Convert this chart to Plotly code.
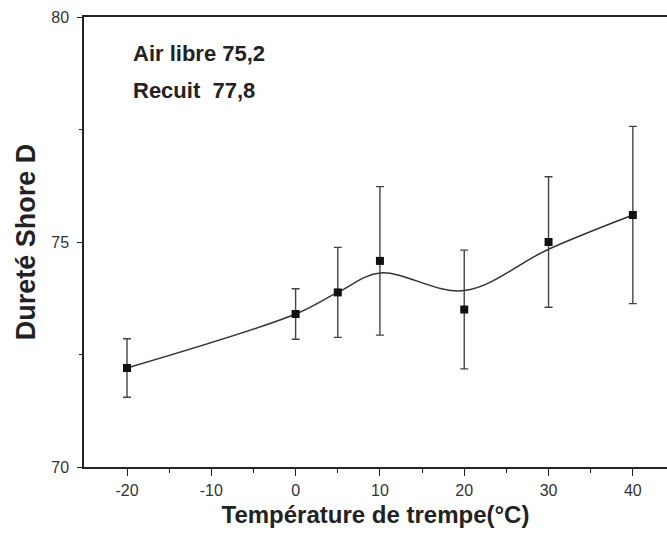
import plotly.graph_objects as go

# Data
temperature = [-20, 0, 5, 10, 20, 30, 40]
durete = [72.2, 73.4, 73.88, 74.58, 73.5, 75.0, 75.6]
ecart = [0.65, 0.56, 1.0, 1.65, 1.32, 1.45, 1.97]
courbe_lissee = [72.2, 73.4, 73.88, 74.31, 73.92, 74.84, 75.6]

x_ticks = [-20, -10, 0, 10, 20, 30, 40]
x_labels = ["-20", "-10", "0", "10", "20", "30", "40"]
y_ticks = [70, 75, 80]

FONT = "Liberation Sans, Arial, sans-serif"

fig = go.Figure()

fig.add_trace(go.Scatter(
    x=temperature, y=courbe_lissee, mode="lines",
    line=dict(color="#333333", width=1.5, shape="spline", smoothing=1.0),
    hoverinfo="skip", showlegend=False,
))

fig.add_trace(go.Scatter(
    x=temperature, y=durete, mode="markers",
    marker=dict(symbol="square", size=8, color="#111111"),
    error_y=dict(type="data", array=ecart, visible=True,
                 color="#444444", thickness=1.4, width=4),
    showlegend=False,
))

axis_font = dict(family=FONT, size=16, color="#333333")

L, T, W, H = 84, 17, 583, 450

fig.update_layout(
    width=667, height=542,
    margin=dict(l=L, r=667 - L - W, t=T, b=542 - T - H),
    plot_bgcolor="white", paper_bgcolor="white",
    xaxis=dict(
        range=[-25.1, 44.05], tickvals=x_ticks, ticktext=x_labels,
        ticks="outside", ticklen=7, tickwidth=1.2, tickcolor="#222222",
        ticklabelstandoff=1,
        showline=True, linecolor="#222222", linewidth=1.5, mirror=True,
        showgrid=False, zeroline=False, tickfont=axis_font,
        minor=dict(ticks="outside", ticklen=4, tickvals=[-15, -5, 5, 15, 25, 35],
                   tickcolor="#222222", showgrid=False),
        title=dict(text="<b>Température de trempe(°C)</b>",
                   font=dict(family=FONT, size=24, color="#222222"), standoff=8),
    ),
    yaxis=dict(
        range=[70, 80], tickvals=y_ticks, ticks="outside", ticklen=5,
        tickwidth=1.2, tickcolor="#222222", ticklabelstandoff=5,
        showline=True, linecolor="#222222", linewidth=1.5, mirror=False,
        showgrid=False, zeroline=False, tickfont=axis_font,
        minor=dict(ticks="outside", ticklen=3, tickvals=[72.5, 77.5],
                   tickcolor="#222222", showgrid=False),
        title=dict(text="<b>Dureté Shore D</b>",
                   font=dict(family=FONT, size=27, color="#222222"), standoff=8),
    ),
    annotations=[
        dict(text="<b>Air libre 75,2</b>", xref="paper", yref="paper",
             x=(131 - L) / W, y=1 - (54 - T) / H, xanchor="left", yanchor="middle",
             showarrow=False, font=dict(family=FONT, size=22, color="#222222")),
        dict(text="<b>Recuit  77,8</b>", xref="paper", yref="paper",
             x=(131 - L) / W, y=1 - (91 - T) / H, xanchor="left", yanchor="middle",
             showarrow=False, font=dict(family=FONT, size=22, color="#222222")),
    ],
)

fig.write_html("out.html")
